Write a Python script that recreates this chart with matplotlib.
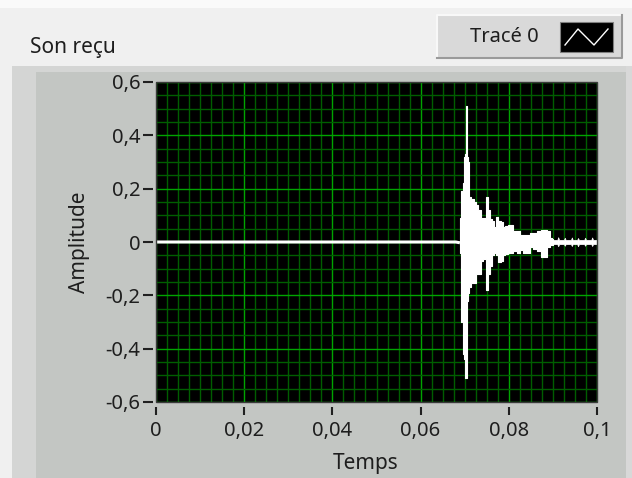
import matplotlib

matplotlib.use("Agg")
import matplotlib.pyplot as plt
from matplotlib.patches import Rectangle
from matplotlib.ticker import FixedLocator, MultipleLocator

plt.rcParams["font.family"] = ["Noto Sans", "DejaVu Sans"]

# --- data -------------------------------------------------------------------
x_ticks = [0, 0.02, 0.04, 0.06, 0.08, 0.1]
x_tick_labels = ["0", "0,02", "0,04", "0,06", "0,08", "0,1"]
y_ticks = [-0.6, -0.4, -0.2, 0, 0.2, 0.4, 0.6]
y_tick_labels = ["-0,6", "-0,4", "-0,2", "0", "0,2", "0,4", "0,6"]

# quiet part before the impact
t_base = [0.0, 0.0680, 0.0689]
a_base = [0.0, 0.0, -0.003]

# envelope of the impact (upper / lower edge of the white trace)
t_env = [0.0689, 0.0694, 0.0697, 0.0700, 0.0703, 0.0705, 0.0707, 0.0709,
         0.0712, 0.0717, 0.0723, 0.0728, 0.0733, 0.0739, 0.0745, 0.0751,
         0.0755, 0.0760, 0.0765, 0.0769, 0.0774, 0.0779, 0.0784, 0.0789,
         0.0795, 0.0801, 0.0807, 0.0814, 0.0821, 0.0828, 0.0836, 0.0844,
         0.0852, 0.0860, 0.0868, 0.0876, 0.0884, 0.0890, 0.0895, 0.0900]
a_upper = [0.09, 0.19, 0.22, 0.32, 0.33, 0.51, 0.32, 0.30,
           0.17, 0.16, 0.15, 0.14, 0.12, 0.09, 0.09, 0.17,
           0.12, 0.085, 0.08, 0.055, 0.095, 0.08, 0.075, 0.055,
           0.06, 0.065, 0.065, 0.04, 0.04, 0.027, 0.027, 0.027,
           0.035, 0.035, 0.04, 0.045, 0.045, 0.04, 0.015, 0.012]
a_lower = [-0.04, -0.30, -0.42, -0.44, -0.51, -0.51, -0.22, -0.19,
           -0.17, -0.155, -0.155, -0.12, -0.12, -0.07, -0.065, -0.18,
           -0.12, -0.09, -0.05, -0.04, -0.05, -0.075, -0.07, -0.05,
           -0.045, -0.04, -0.04, -0.035, -0.04, -0.03, -0.04, -0.04,
           -0.02, -0.025, -0.035, -0.055, -0.055, -0.02, -0.01, -0.01]

# small ripples at the end
t_tail = [0.0900, 0.0910, 0.0912, 0.0914, 0.0925, 0.0927, 0.0929, 0.0941,
          0.0943, 0.0945, 0.0955, 0.0957, 0.0959, 0.0971, 0.0973, 0.0975,
          0.0987, 0.0989, 0.0991, 0.1000]
a_tail_up = [0.008, 0.008, 0.018, 0.008, 0.008, 0.016, 0.008, 0.008,
             0.017, 0.008, 0.008, 0.015, 0.008, 0.008, 0.016, 0.008,
             0.008, 0.017, 0.008, 0.008]
a_tail_lo = [-0.008, -0.008, -0.016, -0.008, -0.008, -0.014, -0.008, -0.008,
             -0.015, -0.008, -0.008, -0.016, -0.008, -0.008, -0.014, -0.008,
             -0.008, -0.015, -0.008, -0.008]

W, H = 632, 478
text_col = "#1e1e1e"

fig = plt.figure(figsize=(W / 100, H / 100), dpi=100)
fig.patch.set_facecolor("#f0f0f0")

# background drawn in pixel coordinates
bg = fig.add_axes([0, 0, 1, 1])
bg.set_xlim(0, W)
bg.set_ylim(H, 0)
bg.axis("off")
bg.set_zorder(0)

bg.add_patch(Rectangle((0, 0), W, 8, color="#fafafa", lw=0))
bg.add_patch(Rectangle((12, 66), W - 12, H - 66, color="#d4d5d4", lw=0))
bg.add_patch(Rectangle((36, 72), 590, H - 72, color="#c3c6c3", lw=0))
bg.add_patch(Rectangle((626, 66), 6, H - 66, color="#d8d8d8", lw=0))

# legend box "Tracé 0"
bg.add_patch(Rectangle((437, 15), 185, 43, fc="#d9d9d9", ec="none"))
bg.plot([437, 437, 622], [58, 15, 15], color="#f8f8f8", lw=1.5)
bg.plot([437, 622, 622], [58, 58, 15], color="#9a9a9a", lw=1.5)
bg.add_patch(Rectangle((560, 22), 53, 30, fc="black", ec="#808080", lw=0.8))
bg.plot([565, 578, 594, 608], [45, 29, 45, 29], color="white", lw=1.0)
bg.text(504, 37, "Tracé 0", ha="center", va="center", fontsize=14.5,
        color=text_col)

bg.text(30, 47, "Son reçu", ha="left", va="center", fontsize=15, color=text_col)
bg.text(80, 242, "Amplitude", rotation=90, ha="center", va="center",
        fontsize=15, color=text_col)
bg.text(366, 463, "Temps", ha="center", va="center", fontsize=15,
        color=text_col)

# plot area
ax = fig.add_axes([156 / W, 1 - 402 / H, (597 - 156) / W, (402 - 82) / H])
ax.set_zorder(1)
ax.set_facecolor("black")
ax.set_xlim(0, 0.1)
ax.set_ylim(-0.6, 0.6)

ax.xaxis.set_major_locator(FixedLocator(x_ticks))
ax.yaxis.set_major_locator(FixedLocator(y_ticks))
ax.set_xticklabels(x_tick_labels)
ax.set_yticklabels(y_tick_labels)
ax.xaxis.set_minor_locator(MultipleLocator(0.0025))
ax.yaxis.set_minor_locator(MultipleLocator(0.05))

ax.grid(which="minor", color="#005e00", lw=1.0)
ax.grid(which="major", color="#00a400", lw=1.0)
ax.set_axisbelow(True)

for side in ["top", "right"]:
    ax.spines[side].set_visible(False)
ax.spines["left"].set_position(("outward", 2.2))
ax.spines["bottom"].set_position(("outward", 3.6))
ax.spines["left"].set_visible(False)
ax.spines["bottom"].set_visible(False)
ax.add_patch(Rectangle((0, 0), 1, 1, transform=ax.transAxes, fill=False,
                       ec="#3a3a3a", lw=1.0, clip_on=False, zorder=6))

ax.tick_params(axis="y", which="major", length=7, width=1.5, color="#202020",
               pad=2, labelsize=14.5, labelcolor=text_col)
ax.tick_params(axis="x", which="major", length=6, width=1.5, color="#202020",
               pad=4, labelsize=14.5, labelcolor=text_col)
ax.tick_params(which="minor", length=0)

# signal
ax.plot(t_base, a_base, color="white", lw=2.2, solid_capstyle="butt", zorder=3)
ax.fill_between(t_env, a_lower, a_upper, step="mid", color="white",
                ec="white", lw=0.8, zorder=3)
ax.fill_between(t_tail, a_tail_lo, a_tail_up, color="white", ec="white",
                lw=0.5, zorder=3)

plt.savefig("out.png", dpi=100, facecolor=fig.get_facecolor())
